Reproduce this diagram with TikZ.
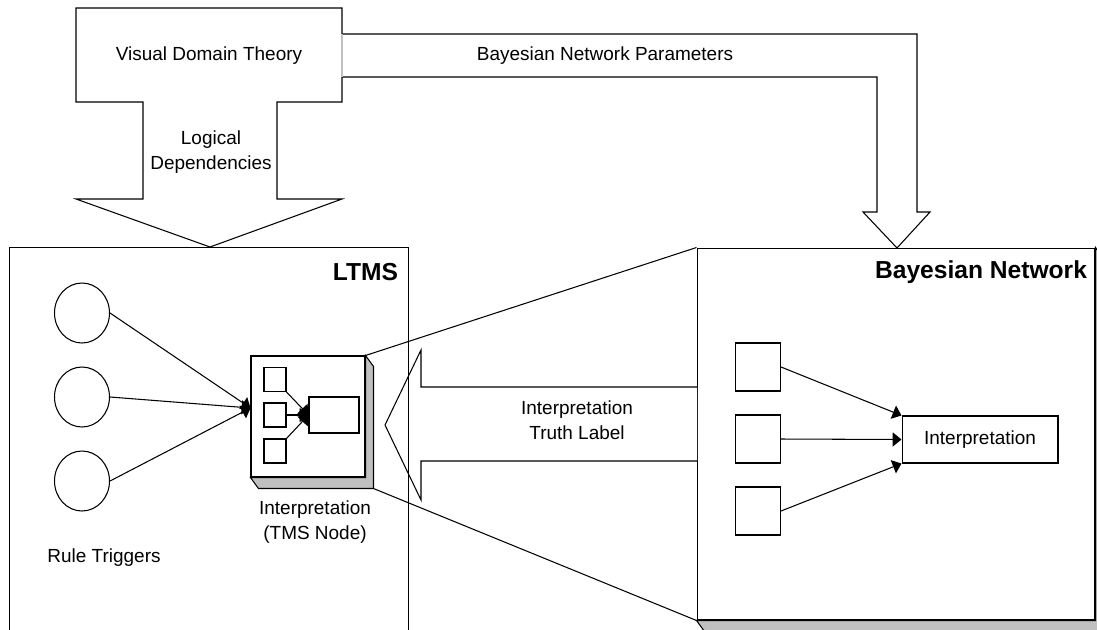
\documentclass[tikz,border=0pt]{standalone}
\usepackage{fontspec}
\setmainfont{Liberation Sans}
\usetikzlibrary{arrows.meta,shapes.geometric}
\definecolor{shadowgray}{RGB}{192,192,192}
\begin{document}
\begin{tikzpicture}[x=0.02cm, y=-0.02cm, line width=0.6pt,
  frame/.style={draw, inner sep=0pt},
  txt/.style={font=\fontsize{10.8}{14}\selectfont, align=center, inner sep=0pt},
  boxtitle/.style={font=\fontsize{14}{16}\selectfont\bfseries, inner sep=0pt},
  dep/.style={-{Triangle[length=5pt, width=8pt]}},
  block/.style={draw, fill=white},
  shade3d/.style={draw, fill=shadowgray}]
  \useasboundingbox (0,0) rectangle (1097,629);
  \clip (0,0) rectangle (1097,629);

  % Bayesian network frame
  \node[frame, minimum width=7.96cm, minimum height=7.44cm] (bn) at (896,434) {};
  \draw[shade3d] (bn.south west) -- ([shift={(8,11)}]bn.south west) -- ([shift={(8,11)}]bn.south east)
    -- ([shift={(8,11)}]bn.north east) -- (bn.north east) -- (bn.south east) -- cycle;
  \node[boxtitle, anchor=east] at ([shift={(-8,25)}]bn.north east) {Bayesian Network};
  \node[frame, minimum width=0.9cm, minimum height=0.96cm] (b1) at (758,367) {};
  \node[frame, minimum width=0.9cm, minimum height=0.96cm] (b2) at (758,439) {};
  \node[frame, minimum width=0.9cm, minimum height=0.96cm] (b3) at (758,511) {};
  \node[frame, txt, minimum width=3.12cm, minimum height=0.94cm] (bint) at (980,439.5) {Interpretation};
  \draw[dep] (b1.east) -- (bint.north west);
  \draw[dep] (b2.east) -- (bint.west);
  \draw[dep] (b3.east) -- (bint.south west);

  % truth label arrow
  \draw[block] (697,387) -- (421,387) -- (421,350) -- (385,425) -- (421,500) -- (421,461) -- (697,461);
  \node[txt] (truth) at (577,420) {Interpretation\\Truth Label};

  % top blocks
  \draw[block] (76,8) -- (342,8) -- (342,102) -- (277,102) -- (277,199) -- (342,199) -- (210,247)
    -- (76,199) -- (143,199) -- (143,102) -- (76,102) -- cycle;
  \draw[block] (342,34) -- (917,34) -- (917,212) -- (930,212) -- (897,248) -- (863,212)
    -- (877,212) -- (877,77) -- (342,77);
  \draw[shadowgray] (342,34) -- (342,77);
  \node[txt] (vdt) at (209,56) {Visual Domain Theory};
  \node[txt] (bnp) at (605,56) {Bayesian Network Parameters};
  \node[txt] (logic) at (211,152) {Logical\\Dependencies};

  % LTMS frame
  \node[frame, minimum width=8cm, minimum height=8.26cm] (ltms) at (209,453.5) {};
  \node[boxtitle, anchor=east] at ([shift={(-11,26)}]ltms.north east) {LTMS};
  \node[frame, ellipse, minimum width=1.1cm, minimum height=1.2cm] (r1) at (82,313) {};
  \node[frame, ellipse, minimum width=1.1cm, minimum height=1.2cm] (r2) at (82,397) {};
  \node[frame, ellipse, minimum width=1.1cm, minimum height=1.2cm] (r3) at (82,481) {};
  \node[txt] (rules) at (104,558) {Rule Triggers};

  % TMS node
  \node[frame, fill=white, minimum width=2.28cm, minimum height=2.42cm] (tms) at (308,416.5) {};
  \draw[shade3d] (tms.north east) -- ([shift={(8,11)}]tms.north east) -- ([shift={(8,11)}]tms.south east)
    -- ([shift={(8,11)}]tms.south west) -- (tms.south west) -- (tms.south east) -- cycle;
  \coordinate (tmsin) at ([shift={(0,-8.5)}]tms.west);
  \coordinate (tmscorner) at ([shift={(8,11)}]tms.south east);
  \node[frame, minimum width=0.44cm, minimum height=0.48cm] (t1) at (275,379.5) {};
  \node[frame, minimum width=0.44cm, minimum height=0.48cm] (t2) at (275,415) {};
  \node[frame, minimum width=0.44cm, minimum height=0.48cm] (t3) at (275,451) {};
  \node[frame, minimum width=1cm, minimum height=0.72cm] (tin) at (334,415) {};
  \draw[dep] (t1.south east) -- (tin.west);
  \draw[dep] (t2.east) -- (tin.west);
  \draw[dep] (t3.north east) -- (tin.west);
  \draw[dep] (r1.east) -- (tmsin);
  \draw[dep] (r2.east) -- (tmsin);
  \draw[dep] (r3.east) -- (tmsin);
  \node[txt] (tmslbl) at (315,522) {Interpretation\\(TMS Node)};

  % zoom lines
  \draw (tms.north east) -- (bn.north west);
  \draw (tmscorner) -- (bn.south west);
\end{tikzpicture}
\end{document}
